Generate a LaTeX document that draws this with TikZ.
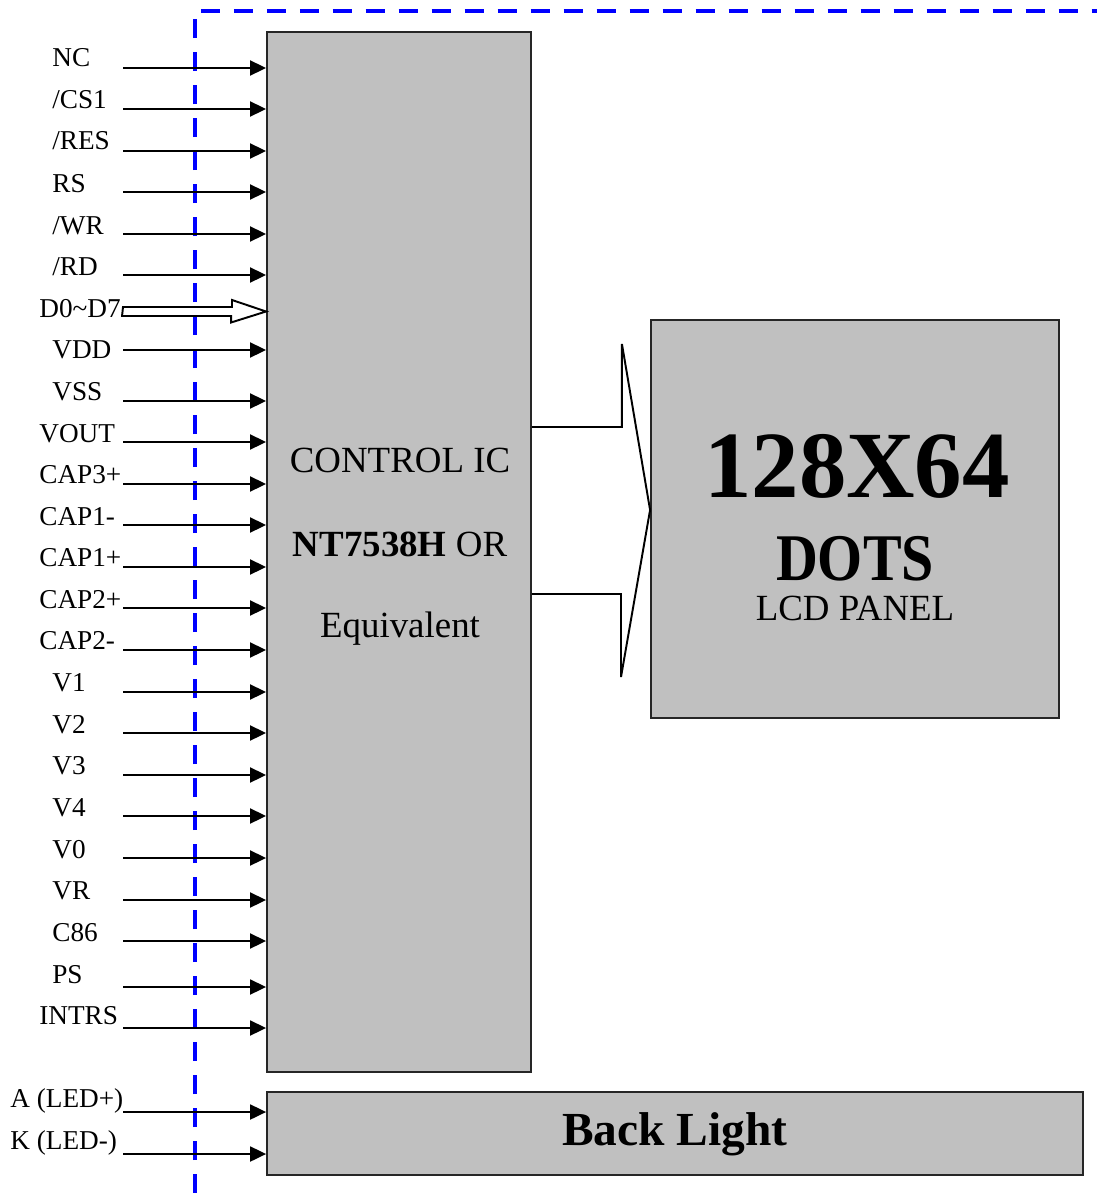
\documentclass[tikz,border=0pt]{standalone}
\usepackage{fontspec}
\setmainfont{Liberation Serif}
\usepackage{xcolor}
\usepackage{tikz}
\usetikzlibrary{positioning, arrows.meta}
\definecolor{panelgray}{RGB}{192,192,192}
\definecolor{edgeblue}{RGB}{0,0,255}

\begin{document}
\begin{tikzpicture}[
    x=0.02cm, y=-0.02cm,
    every node/.style={font=\fontsize{15.5}{18}\selectfont},
    pinlabel/.style={anchor=base west, inner sep=0pt},
    icbox/.style={
        rectangle,
        draw=black!85,
        line width=1.1pt,
        minimum width=5.28cm,
        minimum height=20.8cm,
        fill=panelgray
    },
    panelbox/.style={
        rectangle,
        draw=black!85,
        line width=1.1pt,
        minimum width=8.16cm,
        minimum height=7.96cm,
        fill=panelgray
    },
    lightbox/.style={
        rectangle,
        draw=black!85,
        line width=1.1pt,
        minimum width=16.32cm,
        minimum height=1.66cm,
        fill=panelgray
    },
    boxtext/.style={anchor=base, inner sep=0pt},
    arrow/.style={-{Triangle[length=0.32cm, width=0.3cm]}, line width=1.1pt},
    busarrow/.style={line width=1.1pt, fill=white},
    bigarrow/.style={line width=1.1pt},
    dashline/.style={draw=edgeblue, line width=2.3pt, dash pattern=on 0.38cm off 0.28cm}
]
\useasboundingbox (0,0) rectangle (1097,1193);

% module edge
\draw[dashline] (195,1193) -- (195,11) -- (1097,11);

% blocks
\node[icbox] (ic) at (399,552) {};
\node[panelbox] (lcd) at (855,519) {};
\node[lightbox] (bl) at (675,1133.5) {};

\node[boxtext, font=\fontsize{21}{24}\selectfont] (ictitle) at (400,472) {CONTROL IC};
\node[boxtext, font=\fontsize{21}{24}\selectfont] (icpart) at (400,556) {\textbf{NT7538H} OR};
\node[boxtext, font=\fontsize{21}{24}\selectfont] (icequiv) at (400,637) {Equivalent};

\node[boxtext, font=\fontsize{54}{60}\selectfont\bfseries] (lcdsize) at (857,497) {128X64};
\node[boxtext, font=\fontsize{33}{40}\selectfont\bfseries] (lcddots) at (855,580) {\scalebox{1}[1.15]{DOTS}};
\node[boxtext, font=\fontsize{21}{24}\selectfont] (lcdname) at (855,620) {LCD PANEL};

\node[boxtext, font=\fontsize{27}{30}\selectfont\bfseries] (bltext) at (675,1145) {Back Light};

% pins
\node[pinlabel] (lnc) at (52,67) {NC};           \coordinate (pnc) at (123,68);
\node[pinlabel] (lcs) at (52,109) {/CS1};        \coordinate (pcs) at (123,109);
\node[pinlabel] (lres) at (52,150) {/RES};       \coordinate (pres) at (123,151);
\node[pinlabel] (lrs) at (52,192) {RS};          \coordinate (prs) at (123,192);
\node[pinlabel] (lwr) at (52,234) {/WR};         \coordinate (pwr) at (123,234);
\node[pinlabel] (lrd) at (52,275) {/RD};         \coordinate (prd) at (123,275);
\node[pinlabel] (ldata) at (39,317) {D0\textasciitilde D7}; \coordinate (pdata) at (123,311.5);
\node[pinlabel] (lvdd) at (52,358) {VDD};        \coordinate (pvdd) at (123,350);
\node[pinlabel] (lvss) at (52,400) {VSS};        \coordinate (pvss) at (123,401);
\node[pinlabel] (lvout) at (39,442) {VOUT};      \coordinate (pvout) at (123,442);
\node[pinlabel] (lcapa) at (39,483) {CAP3+};     \coordinate (pcapa) at (123,484);
\node[pinlabel] (lcapb) at (39,525) {CAP1-};     \coordinate (pcapb) at (123,525);
\node[pinlabel] (lcapc) at (39,566) {CAP1+};     \coordinate (pcapc) at (123,567);
\node[pinlabel] (lcapd) at (39,608) {CAP2+};     \coordinate (pcapd) at (123,608);
\node[pinlabel] (lcape) at (39,649) {CAP2-};     \coordinate (pcape) at (123,650);
\node[pinlabel] (lva) at (52,691) {V1};          \coordinate (pva) at (123,692);
\node[pinlabel] (lvb) at (52,733) {V2};          \coordinate (pvb) at (123,733);
\node[pinlabel] (lvc) at (52,774) {V3};          \coordinate (pvc) at (123,775);
\node[pinlabel] (lvd) at (52,816) {V4};          \coordinate (pvd) at (123,816);
\node[pinlabel] (lvo) at (52,858) {V0};          \coordinate (pvo) at (123,858);
\node[pinlabel] (lvr) at (52,899) {VR};          \coordinate (pvr) at (123,900);
\node[pinlabel] (lcsel) at (52,941) {C86};       \coordinate (pcsel) at (123,941);
\node[pinlabel] (lps) at (52,983) {PS};          \coordinate (pps) at (123,987);
\node[pinlabel] (lint) at (39,1024) {INTRS};     \coordinate (pint) at (123,1028);
\node[pinlabel] (lled) at (10,1107) {A (LED+)};  \coordinate (pled) at (123,1112);
\node[pinlabel] (lledk) at (10,1149) {K (LED-)}; \coordinate (pledk) at (123,1154);

\draw[arrow] (pnc) -- (pnc -| ic.west);
\draw[arrow] (pcs) -- (pcs -| ic.west);
\draw[arrow] (pres) -- (pres -| ic.west);
\draw[arrow] (prs) -- (prs -| ic.west);
\draw[arrow] (pwr) -- (pwr -| ic.west);
\draw[arrow] (prd) -- (prd -| ic.west);
\draw[busarrow] (pdata) ++(0,-4.5) -- ++(109,0) -- ++(0,-7) -- (pdata -| ic.west) -- ++(-35,11) -- ++(0,-6.5) -- ++(-109,0) -- cycle;
\draw[arrow] (pvdd) -- (pvdd -| ic.west);
\draw[arrow] (pvss) -- (pvss -| ic.west);
\draw[arrow] (pvout) -- (pvout -| ic.west);
\draw[arrow] (pcapa) -- (pcapa -| ic.west);
\draw[arrow] (pcapb) -- (pcapb -| ic.west);
\draw[arrow] (pcapc) -- (pcapc -| ic.west);
\draw[arrow] (pcapd) -- (pcapd -| ic.west);
\draw[arrow] (pcape) -- (pcape -| ic.west);
\draw[arrow] (pva) -- (pva -| ic.west);
\draw[arrow] (pvb) -- (pvb -| ic.west);
\draw[arrow] (pvc) -- (pvc -| ic.west);
\draw[arrow] (pvd) -- (pvd -| ic.west);
\draw[arrow] (pvo) -- (pvo -| ic.west);
\draw[arrow] (pvr) -- (pvr -| ic.west);
\draw[arrow] (pcsel) -- (pcsel -| ic.west);
\draw[arrow] (pps) -- (pps -| ic.west);
\draw[arrow] (pint) -- (pint -| ic.west);
\draw[arrow] (pled) -- (pled -| bl.west);
\draw[arrow] (pledk) -- (pledk -| bl.west);

% ic to panel
\draw[bigarrow] (ic.east |- 0,427) -- ++(90,0) -- ++(0,-83) -- (lcd.west |- 0,510) -- (621,677) -- ++(0,-83) -- (ic.east |- 0,594);

\end{tikzpicture}
\end{document}
